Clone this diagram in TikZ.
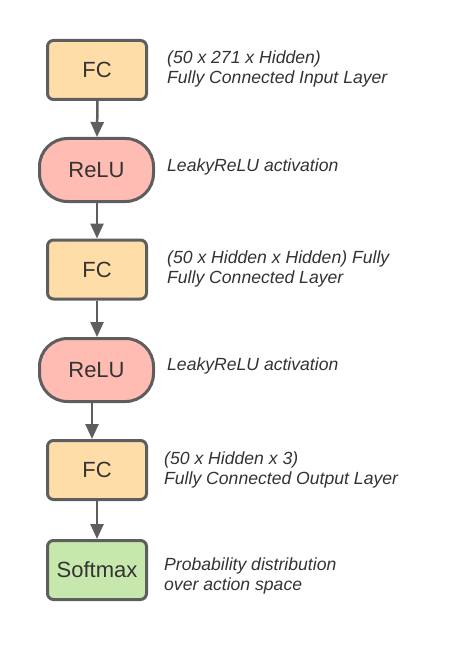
\documentclass[tikz,border=0pt]{standalone}
\usepackage{fontspec}
\setmainfont{Liberation Sans}
\usetikzlibrary{arrows.meta}
\definecolor{edgegray}{HTML}{5E5E5E}
\definecolor{fcfill}{HTML}{FFDDA9}
\definecolor{relufill}{HTML}{FFBCB3}
\definecolor{smfill}{HTML}{C7E8AC}
\definecolor{txt}{HTML}{333333}
\tikzset{
  blockbox/.style={draw=edgegray, line width=3pt, minimum width=99pt, minimum height=59pt,
    rounded corners=6pt, font=\fontsize{22}{26}\selectfont, text=txt, inner sep=0pt},
  fcbox/.style={blockbox, fill=fcfill},
  smbox/.style={blockbox, fill=smfill},
  relubox/.style={blockbox, fill=relufill, minimum width=114pt, minimum height=63pt, rounded corners=28pt},
  desc/.style={anchor=base west, align=left, inner sep=0pt, text=txt,
    font=\fontsize{17.6}{20}\selectfont\itshape},
  conn/.style={draw=edgegray, line width=2.5pt, -{Triangle[length=15pt,width=13pt]}}
}
\begin{document}
\begin{tikzpicture}[x=1pt,y=-1pt]
\useasboundingbox (0,0) rectangle (448,647);
\node[fcbox] (fc1) at (97,70) {FC};
\node[relubox] (r1) at (96.5,170) {ReLU};
\node[fcbox] (fc2) at (97,269.5) {FC};
\node[relubox] (r2) at (96.5,370) {ReLU};
\node[fcbox] (fc3) at (97,470) {FC};
\node[smbox] (sm) at (97,570) {Softmax};

\node[desc] (d1) at (167,83.5) {(50 x 271 x Hidden)\\Fully Connected Input Layer};
\node[desc] (d2) at (167,171.5) {LeakyReLU activation};
\node[desc] (d3) at (167,283.3) {(50 x Hidden x Hidden) Fully\\Fully Connected Layer};
\node[desc] (d4) at (167,370.7) {LeakyReLU activation};
\node[desc] (d5) at (164,484) {(50 x Hidden x 3)\\Fully Connected Output Layer};
\node[desc] (d6) at (164,590) {Probability distribution\\over action space};

\draw[conn] ([xshift=0.5pt]fc1.south) -- (r1.north -| fc1.south);
\draw[conn] (r1.south -| fc2.north) -- (fc2.north);
\draw[conn] (fc2.south) -- (r2.north -| fc2.south);
\draw[conn] ([xshift=-5pt]r2.south -| fc3.north) -- ([xshift=-5pt]fc3.north);
\draw[conn] (fc3.south) -- (sm.north);
\end{tikzpicture}
\end{document}
